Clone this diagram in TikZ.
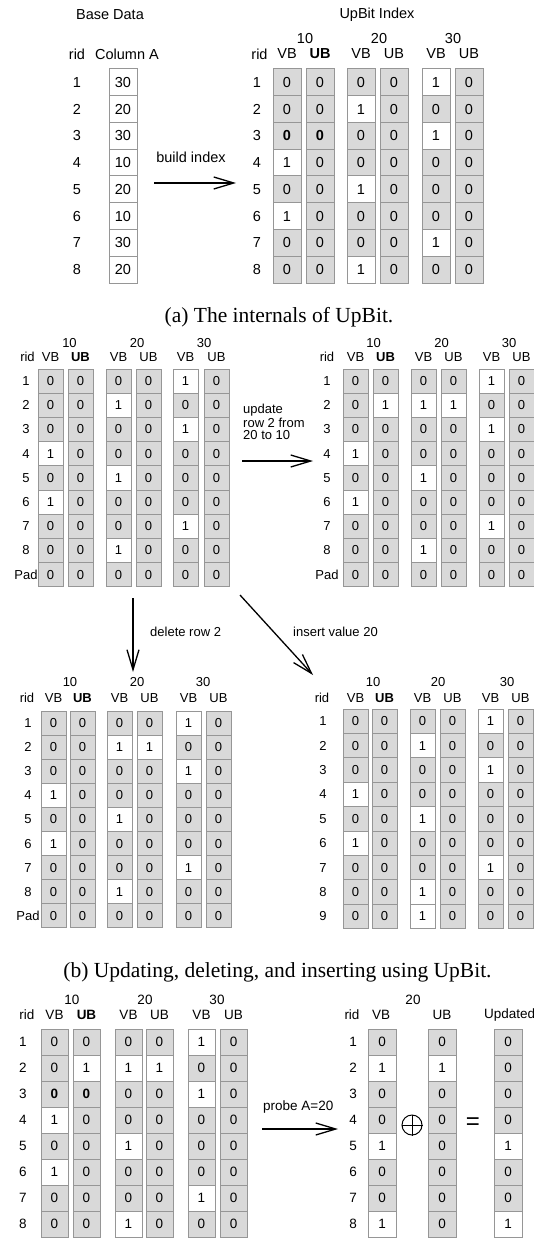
\documentclass[tikz,border=0pt]{standalone}
\usepackage{fontspec}
\setmainfont{Liberation Serif}
\newfontfamily\hv{Liberation Sans}
\usetikzlibrary{arrows.meta}
\definecolor{cellgray}{RGB}{217,217,217}
\definecolor{edgegray}{RGB}{150,150,150}
\tikzset{
  cell/.style={draw=edgegray, line width=1pt, inner sep=0pt, text=black},
  fa/.style={font=\hv\fontsize{14.5}{16}\selectfont, inner sep=0pt},
  fb/.style={font=\hv\fontsize{13}{15}\selectfont, inner sep=0pt},
  fc/.style={font=\hv\fontsize{13.5}{15}\selectfont, inner sep=0pt},
  captxt/.style={font=\fontsize{21.5}{24}\selectfont, inner sep=0pt},
  arr/.style={line width=1.3pt, -{Straight Barb[length=20pt,width=12pt,line width=1.3pt]}},
}
% #1 name, #2 x left, #3 y top, #4 width, #5 row height, #6 font style, #7 values
\newcommand\bitcol[7]{%
  \foreach \v [count=\i] in {#7}{%
    \if\v1\def\cf{white}\def\tx{1}\else\def\cf{cellgray}\if\v b\def\tx{\textbf{0}}\else\def\tx{0}\fi\fi
    \node[cell,#6,fill=\cf,minimum width=#4pt,minimum height=#5pt] (#1-\i) at ({#2+#4/2},{#3+(\i-0.5)*#5}) {\tx};
  }}
% #1 name, #2 x, #3 y top, #4 row height, #5 style, #6 labels
\newcommand\ridcol[6]{%
  \foreach \t [count=\i] in {#6}{\node[#5] (#1-\i) at (#2,{#3+(\i-0.5)*#4}) {\t};}}
% header
\newcommand\hdr[9]{%
  \node[#2] (#1-rid) at (#5,#4) {rid};
  \node[#2] (#1-g10) at (#6,#3) {10};
  \node[#2] (#1-g20) at (#7,#3) {20};
  \node[#2] (#1-g30) at (#8,#3) {30};
  \foreach \xv/\lab [count=\k] in {#9}{\node[#2] (#1-l\k) at (\xv,#4) {\lab};}}

\begin{document}
\begin{tikzpicture}[x=1pt,y=-1pt]
\useasboundingbox (0,0) rectangle (533,1241);
\fill[white] (0,0) rectangle (533,1241);

%%%%%%%%%%%%%%%% (a)
\node[fa] (basedata) at (110,15) {Base Data};
\node[fa] (upbit) at (377,15) {UpBit Index};
\node[fa] (ridA) at (77,54) {rid};
\node[fa] (colA) at (127,54) {Column A};
\ridcol{ra}{77}{69}{26.75}{fa}{1,2,3,4,5,6,7,8}
\foreach \t [count=\i] in {30,20,30,10,20,10,30,20}
  \node[cell,fa,fill=white,minimum width=28pt,minimum height=26.75pt] (ca-\i) at (123,{69+(\i-0.5)*26.75}) {\t};
\node[fa] (bi) at (191,157) {build index};
\coordinate (bi1) at (154,183);
\coordinate (bi2) at (236,183);
\draw[arr] (bi1) -- (bi2);

\hdr{ha}{fa}{39}{54}{259.5}{305}{379}{453}{287/VB,320/\textbf{UB},361/VB,394/UB,436/VB,469/UB}
\ridcol{rb}{257}{69}{26.75}{fa}{1,2,3,4,5,6,7,8}
\bitcol{a1}{273}{69}{28}{26.75}{fa}{0,0,b,1,0,1,0,0}
\bitcol{a2}{306}{69}{28}{26.75}{fa}{0,0,b,0,0,0,0,0}
\bitcol{a3}{347}{69}{28}{26.75}{fa}{0,1,0,0,1,0,0,1}
\bitcol{a4}{380}{69}{28}{26.75}{fa}{0,0,0,0,0,0,0,0}
\bitcol{a5}{422}{69}{28}{26.75}{fa}{1,0,1,0,0,0,1,0}
\bitcol{a6}{455}{69}{28}{26.75}{fa}{0,0,0,0,0,0,0,0}

\node[captxt] (capa) at (279,317) {(a) The internals of UpBit.};

%%%%%%%%%%%%%%%% (b) top left
\hdr{hb1}{fb}{343}{357}{27.5}{69.5}{137}{204}{50.5/VB,80.5/\textbf{UB},118.5/VB,148.5/UB,185.5/VB,216.5/UB}
\ridcol{rc}{26}{369}{24.2}{fb}{1,2,3,4,5,6,7,8,Pad}
\bitcol{b1}{38}{369}{25}{24.2}{fb}{0,0,0,1,0,1,0,0,0}
\bitcol{b2}{68}{369}{25}{24.2}{fb}{0,0,0,0,0,0,0,0,0}
\bitcol{b3}{106}{369}{25}{24.2}{fb}{0,1,0,0,1,0,0,1,0}
\bitcol{b4}{136}{369}{25}{24.2}{fb}{0,0,0,0,0,0,0,0,0}
\bitcol{b5}{173}{369}{25}{24.2}{fb}{1,0,1,0,0,0,1,0,0}
\bitcol{b6}{204}{369}{25}{24.2}{fb}{0,0,0,0,0,0,0,0,0}

%%%%%%%%%%%%%%%% (b) top right
\hdr{hb2}{fb}{343}{357}{327}{373.5}{441.5}{509}{355.5/VB,385.5/\textbf{UB},423.5/VB,453.5/UB,491.5/VB,521.5/UB}
\ridcol{rd}{327}{369}{24.2}{fb}{1,2,3,4,5,6,7,8,Pad}
\bitcol{c1}{343}{369}{25}{24.2}{fb}{0,0,0,1,0,1,0,0,0}
\bitcol{c2}{373}{369}{25}{24.2}{fb}{0,1,0,0,0,0,0,0,0}
\bitcol{c3}{411}{369}{25}{24.2}{fb}{0,1,0,0,1,0,0,1,0}
\bitcol{c4}{441}{369}{25}{24.2}{fb}{0,1,0,0,0,0,0,0,0}
\bitcol{c5}{479}{369}{25}{24.2}{fb}{1,0,1,0,0,0,1,0,0}
\bitcol{c6}{509}{369}{25}{24.2}{fb}{0,0,0,0,0,0,0,0,0}

% update arrow
\node[fb,anchor=west] (up1) at (243,410) {update};
\node[fb,anchor=west] (up2) at (243,422.5) {row 2 from};
\node[fb,anchor=west] (up3) at (243,435) {20 to 10};
\coordinate (u1) at (242,461);
\coordinate (u2) at (313,461);
\draw[arr] (u1) -- (u2);

% delete arrow
\coordinate (d1) at (133,598);
\coordinate (d2) at (133,672);
\draw[arr] (d1) -- (d2);
\node[fb,anchor=west] (dl) at (150,632) {delete row 2};

% insert arrow
\coordinate (i1) at (240,595);
\coordinate (i2) at (313,675);
\draw[arr] (i1) -- (i2);
\node[fb,anchor=west] (il) at (293,632) {insert value 20};

%%%%%%%%%%%%%%%% (b) bottom left
\hdr{hb3}{fb}{682}{698}{27}{70}{137}{203}{53.5/VB,82.5/\textbf{UB},119.5/VB,149.5/UB,188.5/VB,218.5/UB}
\ridcol{re}{28}{711}{24.1}{fb}{1,2,3,4,5,6,7,8,Pad}
\bitcol{d1}{41}{711}{25}{24.1}{fb}{0,0,0,1,0,1,0,0,0}
\bitcol{d2}{70}{711}{25}{24.1}{fb}{0,0,0,0,0,0,0,0,0}
\bitcol{d3}{107}{711}{25}{24.1}{fb}{0,1,0,0,1,0,0,1,0}
\bitcol{d4}{137}{711}{25}{24.1}{fb}{0,1,0,0,0,0,0,0,0}
\bitcol{d5}{176}{711}{25}{24.1}{fb}{1,0,1,0,0,0,1,0,0}
\bitcol{d6}{206}{711}{25}{24.1}{fb}{0,0,0,0,0,0,0,0,0}

%%%%%%%%%%%%%%%% (b) bottom right
\hdr{hb4}{fb}{682}{698}{322}{373}{438}{507}{355.5/VB,384.5/\textbf{UB},422.5/VB,452.5/UB,490.5/VB,520.5/UB}
\ridcol{rf}{323}{709}{24.4}{fb}{1,2,3,4,5,6,7,8,9}
\bitcol{e1}{343}{709}{25}{24.4}{fb}{0,0,0,1,0,1,0,0,0}
\bitcol{e2}{372}{709}{25}{24.4}{fb}{0,0,0,0,0,0,0,0,0}
\bitcol{e3}{410}{709}{25}{24.4}{fb}{0,1,0,0,1,0,0,1,1}
\bitcol{e4}{440}{709}{25}{24.4}{fb}{0,0,0,0,0,0,0,0,0}
\bitcol{e5}{478}{709}{25}{24.4}{fb}{1,0,1,0,0,0,1,0,0}
\bitcol{e6}{508}{709}{25}{24.4}{fb}{0,0,0,0,0,0,0,0,0}

\node[captxt] (capb) at (277.5,972) {(b) Updating, deleting, and inserting using UpBit.};

%%%%%%%%%%%%%%%% (c) left
\hdr{hc}{fc}{1000}{1015}{27}{72}{145}{217}{54.5/VB,86.5/\textbf{UB},128.5/VB,159.5/UB,201.5/VB,233.5/UB}
\ridcol{rg}{23}{1029}{26}{fc}{1,2,3,4,5,6,7,8}
\bitcol{f1}{41}{1029}{27}{26}{fc}{0,0,b,1,0,1,0,0}
\bitcol{f2}{73}{1029}{27}{26}{fc}{0,1,b,0,0,0,0,0}
\bitcol{f3}{115}{1029}{27}{26}{fc}{0,1,0,0,1,0,0,1}
\bitcol{f4}{146}{1029}{27}{26}{fc}{0,1,0,0,0,0,0,0}
\bitcol{f5}{188}{1029}{27}{26}{fc}{1,0,1,0,0,0,1,0}
\bitcol{f6}{220}{1029}{27}{26}{fc}{0,0,0,0,0,0,0,0}

% probe arrow
\node[fc,anchor=west] (pr) at (263,1107) {probe A=20};
\coordinate (p1) at (262,1129);
\coordinate (p2) at (338,1129);
\draw[arr] (p1) -- (p2);

%%%%%%%%%%%%%%%% (c) right
\node[fc] (hr-rid) at (352,1015) {rid};
\node[fc] (hr-vb) at (381,1015) {VB};
\node[fc] (hr-20) at (413,1000) {20};
\node[fc] (hr-ub) at (442,1015) {UB};
\node[fc,anchor=west] (hr-up) at (484,1015) {Updated};
\ridcol{rh}{353}{1029}{26}{fc}{1,2,3,4,5,6,7,8}
\bitcol{g1}{368}{1029}{28}{26}{fc}{0,1,0,0,1,0,0,1}
\bitcol{g2}{428}{1029}{28}{26}{fc}{0,1,0,0,0,0,0,0}
\bitcol{g3}{494}{1029}{28}{26}{fc}{0,0,0,0,1,0,0,1}
\node[circle,draw,line width=1pt,minimum size=20pt,inner sep=0pt] (xor) at (412,1125) {};
\draw[line width=1pt] (xor.north) -- (xor.south) (xor.west) -- (xor.east);
\node[font=\hv\fontsize{24}{24}\selectfont,inner sep=0pt] (eq) at (473,1124) {=};
\end{tikzpicture}
\end{document}
